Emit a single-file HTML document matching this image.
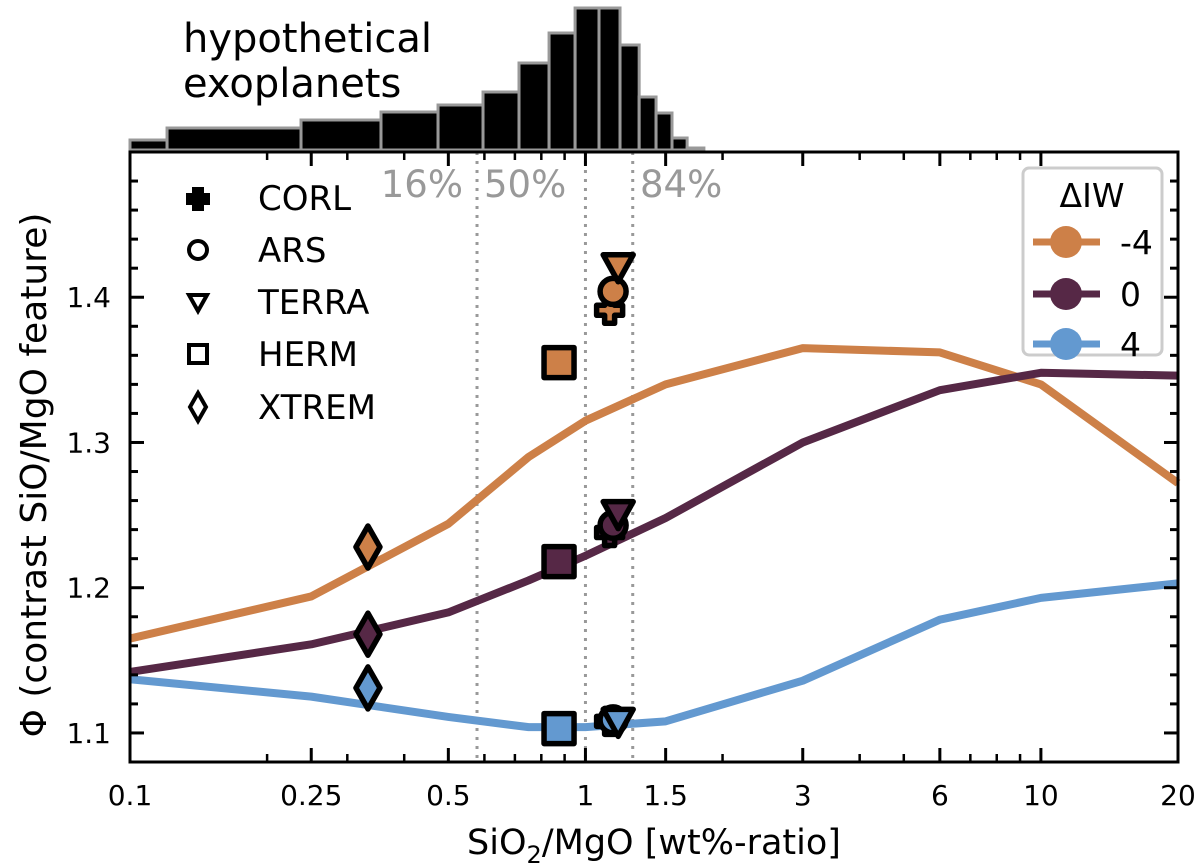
<!DOCTYPE html>
<html><head><meta charset="utf-8">
<style>
html,body{margin:0;padding:0;background:#fff;}
svg{display:block;font-family:"DejaVu Sans","Liberation Sans",sans-serif;}
</style></head>
<body>
<svg id="chart" width="1200" height="868" viewBox="0 0 1200 868" xmlns="http://www.w3.org/2000/svg">
<g id="hist"></g>
<text x="183" y="52" font-size="40">hypothetical</text>
<text x="183" y="97" font-size="40">exoplanets</text>
<g id="grid"></g>
<g id="lines"></g>
<g id="marks"></g>
<g id="axes"></g>
<g font-size="34">
  <g><path d="M192,187 h12 v6 h6 v12 h-6 v6 h-12 v-6 h-6 v-12 h6z" fill="#000"/><text x="258" y="210">CORL</text></g>
  <g><circle cx="198" cy="250" r="9" fill="none" stroke="#000" stroke-width="4"/><text x="258" y="262">ARS</text></g>
  <g><path d="M189,295 h18 l-9,16z" fill="none" stroke="#000" stroke-width="4"/><text x="258" y="314">TERRA</text></g>
  <g><rect x="189" y="345" width="18" height="18" fill="none" stroke="#000" stroke-width="4"/><text x="258" y="366">HERM</text></g>
  <g><path d="M198,393 l8,14 l-8,14 l-8,-14z" fill="none" stroke="#000" stroke-width="4"/><text x="258" y="419">XTREM</text></g>
</g>
<g>
  <rect x="1023" y="168" width="139" height="187" rx="6" fill="#fff" stroke="#ccc" stroke-width="3"/>
  <text x="1092" y="207" font-size="33" text-anchor="middle">ΔIW</text>
  <g><line x1="1033" y1="242" x2="1100" y2="242" stroke="#cd8048" stroke-width="7"/><circle cx="1066" cy="242" r="16" fill="#cd8048"/><text x="1120" y="254" font-size="33">-4</text></g>
  <g><line x1="1033" y1="294" x2="1100" y2="294" stroke="#562846" stroke-width="7"/><circle cx="1066" cy="294" r="16" fill="#562846"/><text x="1120" y="306" font-size="33">0</text></g>
  <g><line x1="1033" y1="344" x2="1100" y2="344" stroke="#6399d0" stroke-width="7"/><circle cx="1066" cy="344" r="16" fill="#6399d0"/><text x="1120" y="356" font-size="33">4</text></g>
</g>
<text x="654" y="854" font-size="35" text-anchor="middle">SiO<tspan font-size="24" dy="9">2</tspan><tspan dy="-9">/MgO [wt%-ratio]</tspan></text>
<text transform="translate(46,475) rotate(-90)" font-size="36" text-anchor="middle">Φ (contrast SiO/MgO feature)</text>
</svg>
<script>
// ---- data ----
const xModel = [0.1, 0.25, 0.5, 0.75, 1, 1.5, 3, 6, 10, 20];
const phiMinus4 = [1.165, 1.194, 1.244, 1.29, 1.315, 1.34, 1.365, 1.362, 1.34, 1.272];
const phi0 = [1.142, 1.161, 1.183, 1.205, 1.222, 1.248, 1.3, 1.336, 1.348, 1.346];
const phi4 = [1.137, 1.125, 1.111, 1.104, 1.104, 1.108, 1.136, 1.178, 1.193, 1.203];
const planetNames = ['XTREM', 'HERM', 'CORL', 'ARS', 'TERRA'];
const planetX = [0.333, 0.875, 1.13, 1.15, 1.18];
const planetPhiMinus4 = [1.228, 1.355, 1.391, 1.404, 1.421];
const planetPhi0 = [1.168, 1.218, 1.238, 1.243, 1.251];
const planetPhi4 = [1.131, 1.103, 1.108, 1.109, 1.108];
const histEdges = [0.1, 0.1206, 0.2374, 0.3557, 0.4746, 0.5958, 0.7147, 0.832, 0.949, 1.071, 1.191, 1.312, 1.429, 1.549, 1.672, 1.82];
const histCounts = [10, 22, 30, 38, 45, 58, 87, 117, 142, 142, 105, 53, 37, 12, 2];
const percentileLabels = ['16%', '50%', '84%'];
const percentileValues = [0.578, 1.0, 1.27];
const xTickValues = [0.1, 0.25, 0.5, 1, 1.5, 3, 6, 10, 20];
const xTickLabels = ['0.1', '0.25', '0.5', '1', '1.5', '3', '6', '10', '20'];
const xMinorValues = [0.2, 0.3, 0.4, 0.6, 0.7, 0.8, 0.9, 2, 4, 5, 7, 8, 9];
const yTickValues = [1.1, 1.2, 1.3, 1.4];
const yTickLabels = ['1.1', '1.2', '1.3', '1.4'];

// ---- scales ----
const L = 130, R = 1178, T = 152, B = 762;
const xMin = 0.1, xMax = 20, yMin = 1.08, yMax = 1.5;
function sx(v) { return L + (Math.log10(v) - Math.log10(xMin)) / (Math.log10(xMax) - Math.log10(xMin)) * (R - L); }
function sy(v) { return B - (v - yMin) / (yMax - yMin) * (B - T); }
const histBase = 150, histScale = 1.0;
function sh(c) { return histBase - c * histScale; }

const NS = 'http://www.w3.org/2000/svg';
function mk(tag, attrs, parent) {
  const e = document.createElementNS(NS, tag);
  for (const k in attrs) e.setAttribute(k, attrs[k]);
  parent.appendChild(e);
  return e;
}
const hist = document.getElementById('hist');
const grid = document.getElementById('grid');
const lines = document.getElementById('lines');
const marks = document.getElementById('marks');
const axes = document.getElementById('axes');

// histogram
for (let i = 0; i < histCounts.length; i++) {
  const x0 = sx(histEdges[i]), x1 = sx(histEdges[i + 1]);
  const r = mk('rect', {x: x0, y: sh(histCounts[i]), width: x1 - x0, height: histBase - sh(histCounts[i]), fill: '#000', stroke: '#999', 'stroke-width': 3}, hist);
  
  
}

// percentile lines
for (let i = 0; i < percentileValues.length; i++) {
  const x = sx(percentileValues[i]);
  const l = mk('line', {x1: x, y1: T, x2: x, y2: B, stroke: '#999', 'stroke-width': 3, 'stroke-dasharray': '3 6'}, grid);
  
  
}
const labelPos = [[463, 'end'], [484, 'start'], [640, 'start']];
percentileLabels.forEach((lab, i) => {
  const t = mk('text', {x: labelPos[i][0], y: 197, 'font-size': 37, fill: '#999', 'text-anchor': labelPos[i][1]}, grid);
  t.textContent = lab;
  
  
});

// model lines
const series = [[phiMinus4, '#cd8048', 'line-dIW-minus4'], [phi0, '#562846', 'line-dIW-0'], [phi4, '#6399d0', 'line-dIW-4']];
series.forEach(s => {
  const pts = xModel.map((x, i) => sx(x) + ',' + sy(s[0][i])).join(' ');
  const p = mk('polyline', {points: pts, fill: 'none', stroke: s[1], 'stroke-width': 8, 'stroke-linejoin': 'round'}, lines);
  
  
});

// planet markers
function marker(name, cx, cy, fill) {
  const g = mk('g', {}, marks);
  const st = {fill: fill, stroke: '#000', 'stroke-width': 5.5, 'stroke-linejoin': 'round'};
  if (name === 'XTREM') mk('path', Object.assign({d: `M${cx},${cy-21} L${cx+12},${cy} L${cx},${cy+21} L${cx-12},${cy}Z`}, st), g);
  else if (name === 'HERM') mk('rect', Object.assign({x: cx - 15, y: cy - 15, width: 30, height: 30}, st), g);
  else if (name === 'ARS') mk('circle', Object.assign({cx: cx, cy: cy, r: 13}, st), g);
  else if (name === 'TERRA') mk('path', Object.assign({d: `M${cx-15},${cy-12} L${cx+15},${cy-12} L${cx},${cy+15}Z`}, st), g);
  else mk('path', Object.assign({d: `M${cx-5},${cy-13} h10 v8 h8 v10 h-8 v8 h-10 v-8 h-8 v-10 h8z`}, st), g);
  
  
}
const order = [2, 0, 1, 3, 4];
[[planetPhiMinus4, '#cd8048'], [planetPhi0, '#562846'], [planetPhi4, '#6399d0']].forEach(s => {
  order.forEach(i => marker(planetNames[i], sx(planetX[i]), sy(s[0][i]), s[1]));
});

// axes frame
const f = mk('rect', {x: L, y: T, width: R - L, height: B - T, fill: 'none', stroke: '#000', 'stroke-width': 3}, axes);


xTickValues.forEach((v, i) => {
  const x = sx(v);
  mk('line', {x1: x, y1: B, x2: x, y2: B - 14, stroke: '#000', 'stroke-width': 3}, axes);
  mk('line', {x1: x, y1: T, x2: x, y2: T + 14, stroke: '#000', 'stroke-width': 3}, axes);
  const t = mk('text', {x: x, y: 805, 'font-size': 28, 'text-anchor': 'middle'}, axes);
  t.textContent = xTickLabels[i];
  
  
});
xMinorValues.forEach(v => {
  const x = sx(v);
  mk('line', {x1: x, y1: B, x2: x, y2: B - 8, stroke: '#000', 'stroke-width': 2.5}, axes);
  mk('line', {x1: x, y1: T, x2: x, y2: T + 8, stroke: '#000', 'stroke-width': 2.5}, axes);
});
for (let k = 0; k <= 21; k++) {
  const v = 1.08 + k * 0.02;
  if (v > 1.5 + 1e-9) break;
  const y = sy(v);
  const major = yTickValues.some(t => Math.abs(t - v) < 1e-6);
  const len = major ? 14 : 8;
  mk('line', {x1: L, y1: y, x2: L + len, y2: y, stroke: '#000', 'stroke-width': 3}, axes);
  mk('line', {x1: R, y1: y, x2: R - len, y2: y, stroke: '#000', 'stroke-width': 3}, axes);
}
yTickValues.forEach((v, i) => {
  const t = mk('text', {x: 111, y: sy(v) + 10, 'font-size': 28, 'text-anchor': 'end'}, axes);
  t.textContent = yTickLabels[i];
  
  
});
</script>
</body></html>
